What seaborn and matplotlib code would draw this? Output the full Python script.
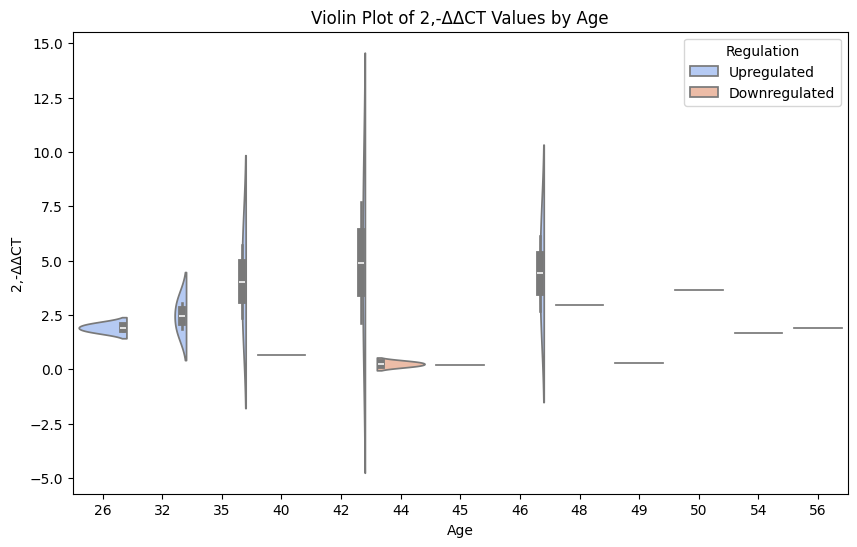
import matplotlib
matplotlib.use("Agg")
import matplotlib.pyplot as plt
import seaborn as sns
import pandas as pd

# Data
ages = [26, 26, 32, 32, 35, 35, 40, 42, 42, 44, 44, 45, 46, 46, 48, 49, 50, 54, 56]
values = [1.77, 2.05, 1.86, 3.03, 2.35, 5.71, 0.67, 2.11, 7.69, 0.16, 0.33,
          0.21, 2.70, 6.12, 2.95, 0.30, 3.64, 1.67, 1.90]
regulation = ["Upregulated", "Upregulated", "Upregulated", "Upregulated",
              "Upregulated", "Upregulated", "Downregulated", "Upregulated",
              "Upregulated", "Downregulated", "Downregulated", "Downregulated",
              "Upregulated", "Upregulated", "Upregulated", "Downregulated",
              "Upregulated", "Upregulated", "Upregulated"]
hue_levels = ["Upregulated", "Downregulated"]

df = pd.DataFrame({"Age": ages, "2,-ΔΔCT": values, "Regulation": regulation})

fig = plt.figure(figsize=(10, 6))
ax = sns.violinplot(data=df, x="Age", y="2,-ΔΔCT", hue="Regulation",
                    hue_order=hue_levels, split=True, palette="coolwarm")
ax.set_title("Violin Plot of 2,-ΔΔCT Values by Age")
ax.set_xlabel("Age")
ax.set_ylabel("2,-ΔΔCT")
ax.legend(title="Regulation", loc="upper right")
fig.savefig("out.png", dpi=100, bbox_inches="tight")
